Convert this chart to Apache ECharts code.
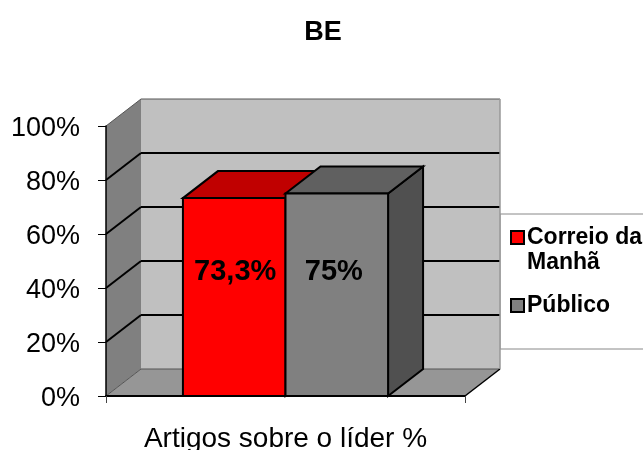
<!DOCTYPE html>
<html>
<head>
<meta charset="utf-8">
<style>
    html, body {margin: 0; padding: 0; background: #fff;}
    #chart {width: 643px; height: 450px;}
</style>
<script src="https://cdn.jsdelivr.net/npm/echarts@6/dist/echarts.min.js"></script>
</head>
<body>
<div id="chart"></div>
<script>
    const categories = ['Artigos sobre o líder %'];
    const seriesNames = ['Correio da Manhã', 'Público'];
    const correioValues = [73.3];
    const publicoValues = [75];
    const barLabels = ['73,3%', '75%'];
    const yTicks = [0, 20, 40, 60, 80, 100];

    const font = '"Liberation Sans", Arial, sans-serif';
    // 3D offset of the box, in pixels
    const DX = 35, DY = -27;
    const GAP = 0.75;   // gap each side, relative to bar width
    const LABEL_LEVEL = 46;

    const poly = (points, fill, stroke, lineWidth) => ({
        type: 'polygon',
        shape: {points},
        style: {fill, stroke: stroke || 'none', lineWidth: lineWidth || 0}
    });
    const line = (a, b, stroke, lineWidth) => ({
        type: 'line',
        shape: {x1: a[0], y1: a[1], x2: b[0], y2: b[1]},
        style: {stroke, lineWidth}
    });

    //side wall, back wall, floor and gridlines
    const renderWalls = (params, api) => {
        const band = api.size([1, 0])[0];
        const x0 = api.coord([0, 0])[0] - band / 2;
        const x1 = x0 + band;
        const y0 = api.coord([0, 0])[1];
        const y1 = api.coord([0, 100])[1];
        const children = [
            poly([[x0, y0], [x0 + DX, y0 + DY], [x0 + DX, y1 + DY], [x0, y1]], '#808080'),
            poly([[x0 + DX, y0 + DY], [x1 + DX, y0 + DY], [x1 + DX, y1 + DY], [x0 + DX, y1 + DY]], '#c0c0c0'),
            poly([[x0, y0], [x1, y0], [x1 + DX, y0 + DY], [x0 + DX, y0 + DY]], '#969696')
        ];
        yTicks.forEach(t => {
            const y = api.coord([0, t])[1];
            const edge = t === 0 || t === 100;
            const color = edge ? '#555' : '#000';
            children.push(line([x0, y], [x0 + DX, y + DY], color, edge ? 1 : 2));
            children.push(line([x0 + DX, y + DY], [x1 + DX, y + DY], color, edge ? 1 : 2));
        });
        children.push(line([x0, y0], [x1, y0], '#000', 1.5));
        children.push(line([x1, y0], [x1 + DX, y0 + DY], '#000', 1.5));
        children.push(line([x1 + DX, y0 + DY], [x1 + DX, y1 + DY], '#999', 1.5));
        return {type: 'group', children};
    };

    const makeBarRenderer = (slot, front, top, side, labelShift) => (params, api) => {
        const band = api.size([1, 0])[0];
        const w = band / (2 + 2 * GAP);
        const left = api.coord([0, 0])[0] - band / 2 + w * (GAP + slot);
        const right = left + w;
        const yBase = api.coord([0, 0])[1];
        const yTop = api.coord([0, api.value(1)])[1];
        return {
            type: 'group',
            children: [
                poly([[right, yBase], [right + DX, yBase + DY], [right + DX, yTop + DY], [right, yTop]], side, '#000', 2),
                poly([[left, yTop], [right, yTop], [right + DX, yTop + DY], [left + DX, yTop + DY]], top, '#000', 2),
                poly([[left, yBase], [right, yBase], [right, yTop], [left, yTop]], front, '#000', 2),
                {
                    type: 'text',
                    style: {
                        x: (left + right) / 2 + labelShift,
                        y: api.coord([0, LABEL_LEVEL])[1],
                        text: barLabels[slot],
                        align: 'center',
                        verticalAlign: 'middle',
                        fill: '#000',
                        font: 'bold 29px ' + font
                    }
                }
            ]
        };
    };

    const barData = values => values.map((v, i) => [i, v]);

    const chart = echarts.init(document.getElementById('chart'), null, {renderer: 'canvas'});
    chart.setOption({
        animation: false,
        backgroundColor: '#fff',
        title: {
            text: 'BE',
            left: 318,
            top: 14,
            textAlign: 'center',
            textStyle: {fontFamily: font, fontSize: 27, fontWeight: 'bold', color: '#000'}
        },
        grid: {left: 106, top: 126, width: 359, height: 270, outerBoundsMode: 'none'},
        xAxis: {
            type: 'category',
            data: categories,
            z: 5,
            axisLine: {lineStyle: {color: '#000', width: 2}},
            axisTick: {show: true, length: 7, lineStyle: {color: '#444', width: 1}},
            axisLabel: {fontFamily: font, fontSize: 28, color: '#000', margin: 29}
        },
        yAxis: {
            type: 'value',
            min: 0,
            max: 100,
            interval: 20,
            z: 5,
            splitLine: {show: false},
            axisLine: {show: true, lineStyle: {color: '#000', width: 1.5}},
            axisTick: {show: true, length: 8, lineStyle: {color: '#000', width: 1}},
            axisLabel: {
                fontFamily: font,
                fontSize: 27,
                color: '#000',
                margin: 26,
                verticalAlign: 'top',
                lineHeight: 6,
                formatter: '{value}%'
            }
        },
        legend: {
            data: seriesNames,
            orient: 'vertical',
            left: 510,
            top: 226,
            padding: 0,
            itemGap: 45,
            itemWidth: 13,
            itemHeight: 13,
            selectedMode: false,
            icon: 'rect',
            formatter: name => name === seriesNames[0] ? 'Correio da' : name,
            textStyle: {fontFamily: font, fontSize: 23, fontWeight: 'bold', color: '#000', padding: [0, 0, 0, -2]}
        },
        graphic: [
            {
                type: 'rect',
                z: -1,
                shape: {x: 500, y: 214, width: 160, height: 135},
                style: {fill: '#fff', stroke: '#888', lineWidth: 1}
            },
            {
                type: 'text',
                x: 527,
                y: 263,
                style: {
                    text: 'Manhã',
                    fill: '#000',
                    font: 'bold 23px ' + font,
                    verticalAlign: 'middle'
                }
            }
        ],
        series: [
            {
                name: 'walls',
                type: 'custom',
                silent: true,
                z: 1,
                renderItem: renderWalls,
                data: [[0, 100]]
            },
            {
                name: seriesNames[0],
                type: 'custom',
                silent: true,
                z: 2,
                itemStyle: {color: '#ff0000', borderColor: '#000', borderWidth: 2},
                renderItem: makeBarRenderer(0, '#ff0000', '#c00000', '#800000', 1),
                data: barData(correioValues)
            },
            {
                name: seriesNames[1],
                type: 'custom',
                silent: true,
                z: 3,
                itemStyle: {color: '#808080', borderColor: '#000', borderWidth: 2},
                renderItem: makeBarRenderer(1, '#808080', '#606060', '#505050', -3),
                data: barData(publicoValues)
            }
        ]
    });
</script>
</body>
</html>
